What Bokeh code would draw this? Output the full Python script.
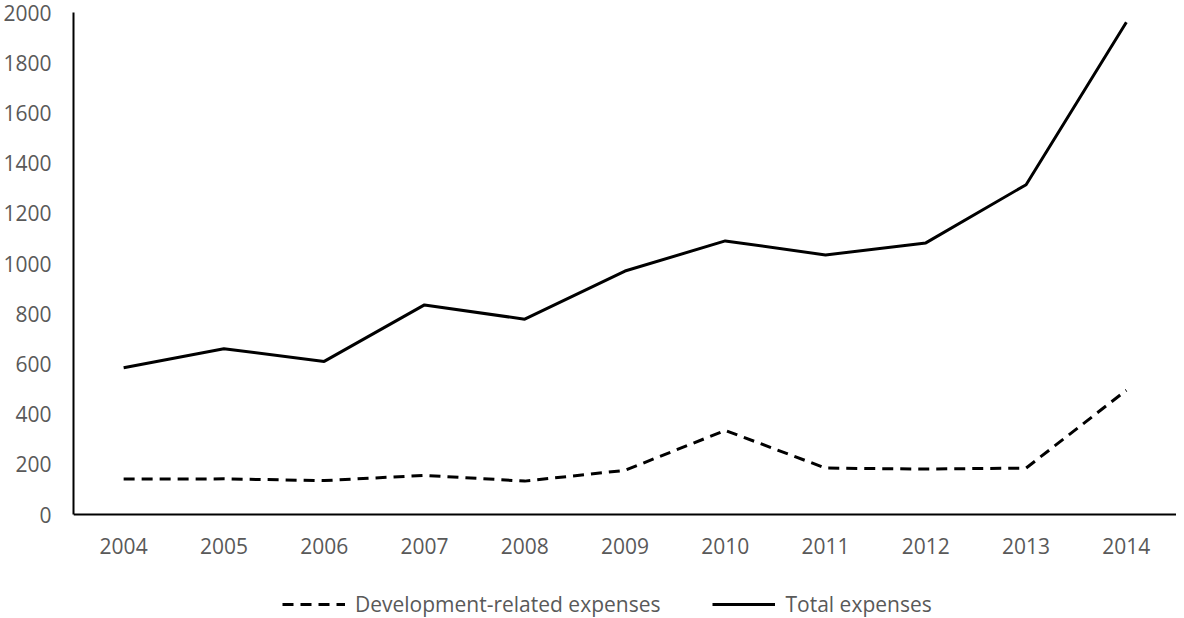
from bokeh.plotting import figure
from bokeh.models import FactorRange, Range1d, Legend, LegendItem, FixedTicker
from bokeh.embed import file_html
from bokeh.resources import INLINE

years = ["2004", "2005", "2006", "2007", "2008", "2009", "2010", "2011", "2012", "2013", "2014"]
total_expenses = [585, 660, 610, 835, 778, 970, 1090, 1034, 1082, 1314, 1961]
dev_expenses = [141, 142, 135, 156, 133, 176, 335, 185, 181, 185, 495]
y_ticks = [0, 200, 400, 600, 800, 1000, 1200, 1400, 1600, 1800, 2000]

FONT = "Open Sans"
FS = "21px"
GREY = "#595959"

# layout: data area 0..2000 spans 502 px; the frame continues below it to hold
# the x labels and the legend
W, H = 1176, 618
TOP, LEFT = 12, 70
DATA_PX = 502
frame_h = H - TOP
y_start = -(frame_h - DATA_PX) / DATA_PX * 2000

p = figure(x_range=FactorRange(*years, range_padding=0), y_range=Range1d(y_start, 2000),
           width=W, height=H, output_backend="svg", toolbar_location=None,
           min_border_left=LEFT, min_border_right=0, min_border_top=TOP, min_border_bottom=0,
           outline_line_color=None, x_axis_location="below")

p.xgrid.visible = False
p.ygrid.visible = False

for ax in (p.xaxis[0], p.yaxis[0]):
    ax.axis_line_color = "black"
    ax.axis_line_width = 2
    ax.major_tick_line_color = None
    ax.minor_tick_line_color = None
    ax.major_tick_out = 0
    ax.major_tick_in = 0
    ax.major_label_text_font = FONT
    ax.major_label_text_font_size = FS
    ax.major_label_text_color = GREY

p.yaxis[0].ticker = FixedTicker(ticks=y_ticks)
p.yaxis[0].bounds = (0, 2000)
p.yaxis[0].major_label_standoff = 22
p.xaxis[0].fixed_location = 0
p.xaxis[0].major_label_standoff = 23

r_dev = p.line(years, dev_expenses, line_color="black", line_width=3, line_dash="11 7")
r_tot = p.line(years, total_expenses, line_color="black", line_width=3)

legend = Legend(items=[LegendItem(label="Development-related expenses", renderers=[r_dev]),
                       LegendItem(label="Total expenses", renderers=[r_tot])],
                orientation="horizontal", location=(209, 0),
                label_text_font=FONT, label_text_font_size=FS, label_text_color=GREY,
                glyph_width=63, glyph_height=20, label_height=20, label_standoff=10,
                spacing=52, padding=0, margin=0, border_line_color=None,
                background_fill_alpha=0)
p.add_layout(legend, "center")

open("out.html", "w").write(file_html(p, INLINE))
